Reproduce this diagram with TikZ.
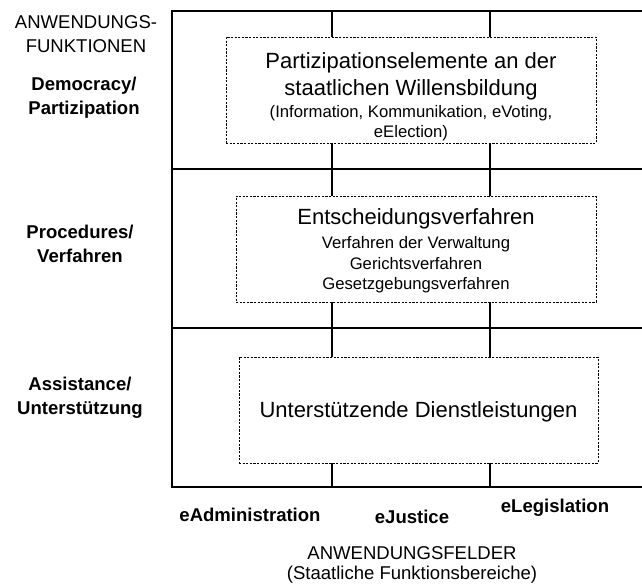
\documentclass[tikz,border=0pt]{standalone}
\usepackage{fontspec}
\setmainfont{Liberation Sans}
\newcommand{\gross}{\fontsize{16.5}{19.5}\selectfont}
\newcommand{\klein}{\fontsize{12.5}{15.5}\selectfont}
\newcommand{\etikett}{\fontsize{13.9}{18}\selectfont}
\begin{document}
\begin{tikzpicture}[x=0.75pt,y=-0.75pt,
  feld/.style={draw,dash pattern=on 1.6pt off 1.1pt,line width=0.6pt,fill=white,
    inner sep=0pt,align=center,font=\klein},
  funktion/.style={align=center,font=\etikett\bfseries},
  bereich/.style={align=center,font=\etikett\bfseries},
  titel/.style={align=center,font=\etikett}]
\useasboundingbox (0,0) rectangle (642,586);
% Raster
\draw[line width=1pt] (650,11) -- (172,11) -- (172,487) -- (650,487);
\draw[line width=1pt] (172,169) -- (650,169);
\draw[line width=1pt] (172,328) -- (650,328);
\draw[line width=1pt] (332,11) -- (332,487);
\draw[line width=1pt] (490,11) -- (490,487);
% Felder
\node[feld,minimum width=370*0.75pt,minimum height=106*0.75pt] (partizipation) at (411,90)
  {\gross\rule{0pt}{22pt}Partizipationselemente an der\\[4.75pt]\gross staatlichen Willensbildung\\[1pt]
   (Information, Kommunikation, eVoting,\\eElection)};
\node[feld,minimum width=360*0.75pt,minimum height=106*0.75pt] (verfahren) at (416,249)
  {\gross\rule{0pt}{15pt}Entscheidungsverfahren\\[2.5pt]Verfahren der Verwaltung\\Gerichtsverfahren\\
   Gesetzgebungsverfahren};
\node[feld,minimum width=359*0.75pt,minimum height=106*0.75pt] (dienste) at (418.5,410)
  {\gross\rule{0pt}{15pt}Unterst\"utzende Dienstleistungen};
% Anwendungsfunktionen
\node[titel] (funktionen) at (86,34.5) {ANWENDUNGS-\\FUNKTIONEN};
\node[funktion] (democracy) at (84,97.5) {Democracy/\\Partizipation};
\node[funktion] (procedures) at (80,244) {Procedures/\\Verfahren};
\node[funktion] (assistance) at (80,398) {Assistance/\\Unterst\"utzung};
% Anwendungsfelder
\node[bereich] (eadmin) at (250,515) {eAdministration};
\node[bereich] (ejustice) at (412,517) {eJustice};
\node[bereich] (elegis) at (555,508) {eLegislation};
\node[titel,font=\fontsize{13.9}{15}\selectfont] (felder) at (412,565)
  {ANWENDUNGSFELDER\\(Staatliche Funktionsbereiche)};
\end{tikzpicture}
\end{document}
